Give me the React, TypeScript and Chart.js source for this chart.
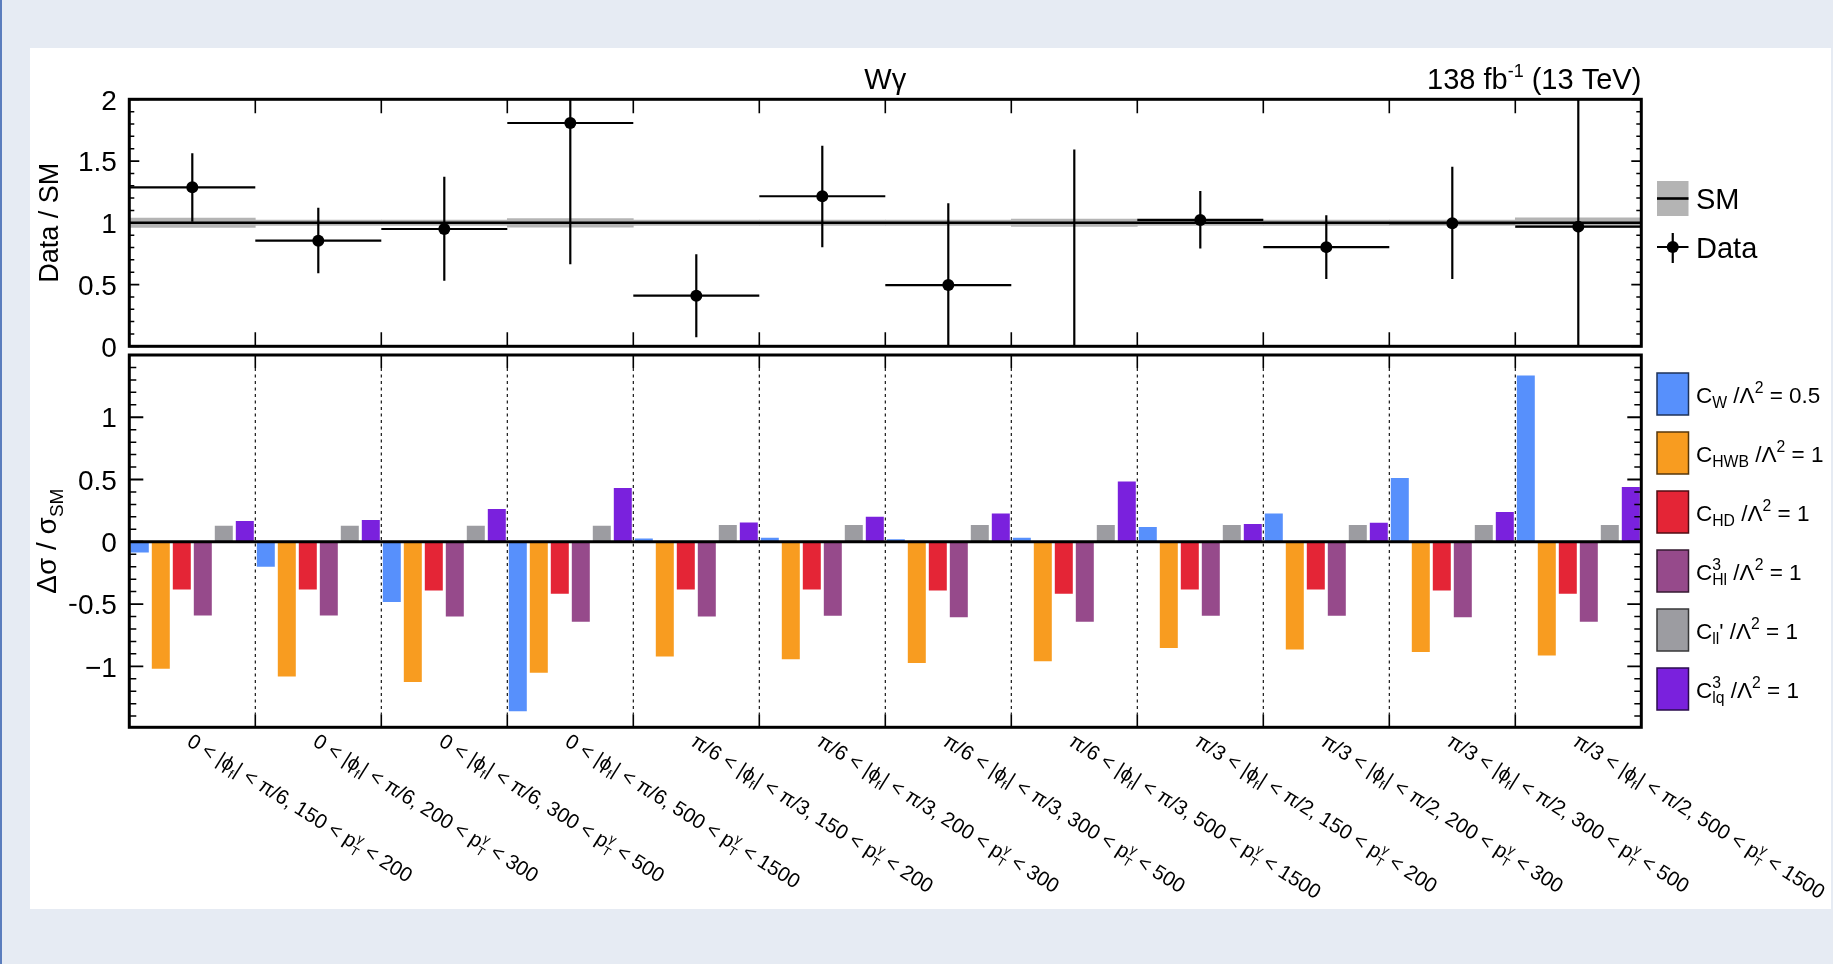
import React, { useEffect, useRef } from 'react';
import Chart from 'chart.js/auto';

// ---------------- data ----------------
const phiLow = ['0', '0', '0', '0', 'π/6', 'π/6', 'π/6', 'π/6', 'π/3', 'π/3', 'π/3', 'π/3'];
const phiHigh = ['π/6', 'π/6', 'π/6', 'π/6', 'π/3', 'π/3', 'π/3', 'π/3', 'π/2', 'π/2', 'π/2', 'π/2'];
const ptLow = ['150', '200', '300', '500', '150', '200', '300', '500', '150', '200', '300', '500'];
const ptHigh = ['200', '300', '500', '1500', '200', '300', '500', '1500', '200', '300', '500', '1500'];

const dataRatio = [1.287, 0.855, 0.95, 1.808, 0.41, 1.215, 0.496, -0.15, 1.023, 0.803, 0.997, 0.969];
const dataHigh = [1.563, 1.122, 1.373, 2.6, 0.746, 1.624, 1.158, 1.594, 1.258, 1.061, 1.454, 2.6];
const dataLow = [1.009, 0.591, 0.531, 0.664, 0.073, 0.803, -0.1, -0.3, 0.792, 0.544, 0.544, -0.3];
const smUnc = [0.038, 0.022, 0.022, 0.035, 0.022, 0.022, 0.022, 0.03, 0.022, 0.022, 0.022, 0.04];

const cW = [-0.086, -0.201, -0.483, -1.362, 0.027, 0.032, 0.021, 0.032, 0.118, 0.228, 0.512, 1.335];
const cHWB = [-1.019, -1.083, -1.126, -1.051, -0.922, -0.944, -0.973, -0.96, -0.853, -0.866, -0.885, -0.914];
const cHD = [-0.383, -0.383, -0.391, -0.418, -0.383, -0.383, -0.391, -0.418, -0.383, -0.383, -0.391, -0.418];
const cHl3 = [-0.593, -0.593, -0.601, -0.643, -0.601, -0.595, -0.606, -0.643, -0.595, -0.595, -0.606, -0.643];
const cll1 = [0.129, 0.129, 0.129, 0.129, 0.134, 0.134, 0.134, 0.134, 0.134, 0.134, 0.134, 0.134];
const clq3 = [0.166, 0.174, 0.263, 0.432, 0.155, 0.201, 0.228, 0.485, 0.142, 0.153, 0.239, 0.44];

const upperTicks = [0, 0.5, 1, 1.5, 2];
const lowerTicks = [-1, -0.5, 0, 0.5, 1];

const seriesColors = ['#5790fc', '#f89c20', '#e42536', '#964a8b', '#9c9ca1', '#7a21dd'];

type Seg = { t: string; sub?: string; sup?: string };

const legendLabels: Seg[][] = [
  [{ t: 'C', sub: 'W' }, { t: ' /Λ', sup: '2' }, { t: ' = 0.5' }],
  [{ t: 'C', sub: 'HWB' }, { t: ' /Λ', sup: '2' }, { t: ' = 1' }],
  [{ t: 'C', sub: 'HD' }, { t: ' /Λ', sup: '2' }, { t: ' = 1' }],
  [{ t: 'C', sub: 'Hl', sup: '3' }, { t: ' /Λ', sup: '2' }, { t: ' = 1' }],
  [{ t: 'C', sub: 'll' }, { t: "' /Λ", sup: '2' }, { t: ' = 1' }],
  [{ t: 'C', sub: 'lq', sup: '3' }, { t: ' /Λ', sup: '2' }, { t: ' = 1' }],
];

const FAMILY = "'Liberation Sans', 'DejaVu Sans', Arial, sans-serif";

// ---------------- helpers ----------------
function font(size: number) {
  return `${size}px ${FAMILY}`;
}

function richWidth(ctx: CanvasRenderingContext2D, segs: Seg[], size: number, small = 0.68) {
  let w = 0;
  for (const s of segs) {
    ctx.font = font(size);
    w += ctx.measureText(s.t).width;
    ctx.font = font(size * small);
    const a = s.sub ? ctx.measureText(s.sub).width : 0;
    const b = s.sup ? ctx.measureText(s.sup).width : 0;
    w += Math.max(a, b);
  }
  return w;
}

function drawRich(
  ctx: CanvasRenderingContext2D,
  segs: Seg[],
  x: number,
  y: number,
  size: number,
  align: 'left' | 'center' | 'right' = 'left',
  small = 0.68
) {
  const total = richWidth(ctx, segs, size, small);
  let cx = align === 'left' ? x : align === 'center' ? x - total / 2 : x - total;
  ctx.textAlign = 'left';
  ctx.textBaseline = 'alphabetic';
  for (const s of segs) {
    ctx.font = font(size);
    ctx.fillText(s.t, cx, y);
    cx += ctx.measureText(s.t).width;
    ctx.font = font(size * small);
    let a = 0;
    let b = 0;
    if (s.sub) {
      ctx.fillText(s.sub, cx, y + size * 0.26);
      a = ctx.measureText(s.sub).width;
    }
    if (s.sup) {
      ctx.fillText(s.sup, cx, y - size * 0.42);
      b = ctx.measureText(s.sup).width;
    }
    cx += Math.max(a, b);
  }
}

function darken(hex: string, f: number) {
  const n = parseInt(hex.slice(1), 16);
  const r = Math.round(((n >> 16) & 255) * f);
  const g = Math.round(((n >> 8) & 255) * f);
  const b = Math.round((n & 255) * f);
  return `rgb(${r},${g},${b})`;
}

function binEdge(xs: any, i: number) {
  // boundary between bin i-1 and bin i
  const p0 = xs.getPixelForValue(0);
  const p1 = xs.getPixelForValue(1);
  const w = p1 - p0;
  return p0 - w / 2 + i * w;
}

function drawFrameAndTicks(
  ctx: CanvasRenderingContext2D,
  chart: any,
  majors: number[],
  majLen: number,
  minLen: number,
  xTickLen: number,
  dashed: boolean
) {
  const ca = chart.chartArea;
  const ys = chart.scales.y;
  const xs = chart.scales.x;
  ctx.save();
  ctx.strokeStyle = '#000';
  for (let i = 1; i < 12; i++) {
    const px = binEdge(xs, i);
    ctx.lineWidth = 1.6;
    ctx.setLineDash([]);
    ctx.beginPath();
    ctx.moveTo(px, ca.top);
    ctx.lineTo(px, ca.top + xTickLen);
    ctx.moveTo(px, ca.bottom);
    ctx.lineTo(px, ca.bottom - xTickLen);
    ctx.stroke();
    if (dashed) {
      ctx.lineWidth = 1.1;
      ctx.setLineDash([3, 3.5]);
      ctx.beginPath();
      ctx.moveTo(px, ca.top + xTickLen);
      ctx.lineTo(px, ca.bottom - xTickLen);
      ctx.stroke();
      ctx.setLineDash([]);
    }
  }
  const min = ys.min;
  const max = ys.max;
  for (let k = Math.ceil(min * 10 - 1e-6); k <= Math.floor(max * 10 + 1e-6); k++) {
    const v = k / 10;
    const isMajor = majors.some((m) => Math.abs(m - v) < 1e-6);
    const len = isMajor ? majLen : minLen;
    const py = ys.getPixelForValue(v);
    ctx.lineWidth = isMajor ? 1.8 : 1.5;
    ctx.beginPath();
    ctx.moveTo(ca.left, py);
    ctx.lineTo(ca.left + len, py);
    ctx.moveTo(ca.right, py);
    ctx.lineTo(ca.right - len, py);
    ctx.stroke();
  }
  ctx.lineWidth = 3;
  ctx.strokeRect(ca.left, ca.top, ca.right - ca.left, ca.bottom - ca.top);
  ctx.restore();
}

const PLOT_LEFT = 129.3;
const PLOT_RIGHT = 1641.3;
const AXIS_W = 60;
const PAGE_W = 1833;
const PAGE_H = 964;

// ---------------- plugins ----------------
const upperPlugin = {
  id: 'upperDeco',
  afterDatasetDraw(chart: any, args: any) {
    if (args.index !== 0) return;
    const ctx: CanvasRenderingContext2D = chart.ctx;
    const ca = chart.chartArea;
    const xs = chart.scales.x;
    const ys = chart.scales.y;
    ctx.save();
    ctx.beginPath();
    ctx.rect(ca.left, ca.top, ca.right - ca.left, ca.bottom - ca.top);
    ctx.clip();
    ctx.strokeStyle = '#000';
    ctx.lineWidth = 2.6;
    ctx.beginPath();
    ctx.moveTo(binEdge(xs, 0), ys.getPixelForValue(1));
    ctx.lineTo(binEdge(xs, 12), ys.getPixelForValue(1));
    ctx.stroke();
    ctx.lineWidth = 2.2;
    for (let i = 0; i < dataRatio.length; i++) {
      const cx = xs.getPixelForValue(i);
      const py = ys.getPixelForValue(dataRatio[i]);
      ctx.beginPath();
      ctx.moveTo(binEdge(xs, i), py);
      ctx.lineTo(binEdge(xs, i + 1), py);
      ctx.moveTo(cx, ys.getPixelForValue(dataHigh[i]));
      ctx.lineTo(cx, ys.getPixelForValue(dataLow[i]));
      ctx.stroke();
    }
    ctx.restore();
  },
  afterDraw(chart: any) {
    const ctx: CanvasRenderingContext2D = chart.ctx;
    const ca = chart.chartArea;
    drawFrameAndTicks(ctx, chart, upperTicks, 10, 5, 14, false);
    ctx.save();
    ctx.fillStyle = '#000';
    drawRich(ctx, [{ t: 'Wγ' }], (ca.left + ca.right) / 2, 88.5, 29, 'center');
    drawRich(ctx, [{ t: '138 fb', sup: '-1' }, { t: ' (13 TeV)' }], ca.right, 89, 29, 'right', 0.62);
    ctx.save();
    ctx.translate(58, (ca.top + ca.bottom) / 2);
    ctx.rotate(-Math.PI / 2);
    drawRich(ctx, [{ t: 'Data / SM' }], 0, 0, 27, 'center');
    ctx.restore();
    const lx = 1657;
    const lw = 31.5;
    ctx.fillStyle = '#b4b4b4';
    ctx.fillRect(lx, 181, lw, 35);
    ctx.strokeStyle = '#000';
    ctx.lineWidth = 2.6;
    ctx.beginPath();
    ctx.moveTo(lx, 198.5);
    ctx.lineTo(lx + lw, 198.5);
    ctx.stroke();
    ctx.lineWidth = 2.2;
    ctx.beginPath();
    ctx.moveTo(lx, 247);
    ctx.lineTo(lx + lw, 247);
    ctx.moveTo(lx + lw / 2, 233);
    ctx.lineTo(lx + lw / 2, 263);
    ctx.stroke();
    ctx.fillStyle = '#000';
    ctx.beginPath();
    ctx.arc(lx + lw / 2, 247, 6, 0, Math.PI * 2);
    ctx.fill();
    drawRich(ctx, [{ t: 'SM' }], 1696, 209, 29);
    drawRich(ctx, [{ t: 'Data' }], 1696, 258, 29);
    ctx.restore();
  },
};

const lowerPlugin = {
  id: 'lowerDeco',
  afterDatasetsDraw(chart: any) {
    const ctx: CanvasRenderingContext2D = chart.ctx;
    const ys = chart.scales.y;
    const ca = chart.chartArea;
    ctx.save();
    ctx.strokeStyle = '#000';
    ctx.lineWidth = 3;
    ctx.beginPath();
    ctx.moveTo(ca.left, ys.getPixelForValue(0));
    ctx.lineTo(ca.right, ys.getPixelForValue(0));
    ctx.stroke();
    ctx.restore();
  },
  afterDraw(chart: any) {
    const ctx: CanvasRenderingContext2D = chart.ctx;
    const ca = chart.chartArea;
    const xs = chart.scales.x;
    drawFrameAndTicks(ctx, chart, lowerTicks, 14, 7, 13, true);
    ctx.save();
    ctx.fillStyle = '#000';
    ctx.save();
    ctx.translate(56, (ca.top + ca.bottom) / 2);
    ctx.rotate(-Math.PI / 2);
    drawRich(ctx, [{ t: 'Δσ / σ', sub: 'SM' }], 0, 0, 28, 'center');
    ctx.restore();
    const ang = (32 * Math.PI) / 180;
    for (let i = 0; i < 12; i++) {
      const cx = xs.getPixelForValue(i);
      ctx.save();
      ctx.translate(cx + 2, ca.bottom + 4);
      ctx.rotate(ang);
      drawRich(
        ctx,
        [
          { t: `${phiLow[i]} < |ϕ`, sub: 'f' },
          { t: `| < ${phiHigh[i]}, ${ptLow[i]} < p`, sub: 'T', sup: 'γ' },
          { t: ` < ${ptHigh[i]}` },
        ],
        0,
        16,
        20.5,
        'left',
        0.62
      );
      ctx.restore();
    }
    const lx = 1657;
    const lw = 31.5;
    const tops = [373, 432, 491, 550, 609, 668];
    for (let k = 0; k < 6; k++) {
      ctx.fillStyle = seriesColors[k];
      ctx.fillRect(lx, tops[k], lw, 42);
      ctx.strokeStyle = darken(seriesColors[k], 0.35);
      ctx.lineWidth = 1.5;
      ctx.strokeRect(lx, tops[k], lw, 42);
      ctx.fillStyle = '#000';
      drawRich(ctx, legendLabels[k], 1696, tops[k] + 21 + 8.5, 22.5, 'left', 0.7);
    }
    ctx.restore();
  },
};

// ---------------- component ----------------
export default function App() {
  const upperRef = useRef<HTMLCanvasElement | null>(null);
  const lowerRef = useRef<HTMLCanvasElement | null>(null);

  useEffect(() => {
    const binLabels = phiLow.map((p, i) => `${p} < |ϕf| < ${phiHigh[i]}, ${ptLow[i]} < pT < ${ptHigh[i]}`);
    const yTickFont = { family: FAMILY, size: 28 };
    const fmt = (v: any) => {
      const n = Number(v);
      return n < 0 ? '−' + String(Math.abs(n)) : String(n);
    };
    const yGrid = { display: false, drawTicks: false, tickLength: 0 };

    const upper = new Chart(upperRef.current as HTMLCanvasElement, {
      type: 'bar',
      data: {
        labels: binLabels,
        datasets: [
          {
            type: 'bar',
            label: 'SM',
            data: smUnc.map((u) => [1 - u, 1 + u]) as any,
            backgroundColor: '#b4b4b4',
            borderWidth: 0,
            barPercentage: 1,
            categoryPercentage: 1,
            order: 2,
          },
          {
            type: 'line',
            label: 'Data',
            data: dataRatio,
            showLine: false,
            pointRadius: 6,
            pointBackgroundColor: '#000',
            pointBorderWidth: 0,
            borderColor: '#000',
            clip: 0 as any,
            order: 1,
          },
        ],
      } as any,
      options: {
        responsive: false,
        animation: false,
        devicePixelRatio: 1,
        events: [],
        layout: {
          padding: {
            left: PLOT_LEFT - AXIS_W,
            right: PAGE_W - PLOT_RIGHT,
            top: 99.3,
            bottom: PAGE_H - 346.3,
          },
        },
        plugins: { legend: { display: false }, tooltip: { enabled: false }, title: { display: false } },
        scales: {
          x: { type: 'category', display: false, offset: true },
          y: {
            min: 0,
            max: 2,
            grid: yGrid,
            border: { display: false },
            afterBuildTicks: (s: any) => {
              s.ticks = upperTicks.map((v) => ({ value: v }));
            },
            afterFit: (s: any) => {
              s.width = AXIS_W;
            },
            ticks: { font: yTickFont, color: '#000', padding: 12.5, labelOffset: 2.5, autoSkip: false, callback: fmt },
          },
        },
      } as any,
      plugins: [upperPlugin],
    });

    const lower = new Chart(lowerRef.current as HTMLCanvasElement, {
      type: 'bar',
      data: {
        labels: binLabels,
        datasets: [cW, cHWB, cHD, cHl3, cll1, clq3].map((d, k) => ({
          label: ['CW', 'CHWB', 'CHD', 'CHl3', "Cll'", 'Clq3'][k],
          data: d,
          backgroundColor: seriesColors[k],
          borderWidth: 0,
          barPercentage: 0.857,
          categoryPercentage: 1,
        })),
      },
      options: {
        responsive: false,
        animation: false,
        devicePixelRatio: 1,
        events: [],
        layout: {
          padding: {
            left: PLOT_LEFT - AXIS_W,
            right: PAGE_W - PLOT_RIGHT,
            top: 355,
            bottom: PAGE_H - 727.3,
          },
        },
        plugins: { legend: { display: false }, tooltip: { enabled: false }, title: { display: false } },
        scales: {
          x: { type: 'category', display: false, offset: true },
          y: {
            min: -1.49,
            max: 1.5,
            grid: yGrid,
            border: { display: false },
            afterBuildTicks: (s: any) => {
              s.ticks = lowerTicks.map((v) => ({ value: v }));
            },
            afterFit: (s: any) => {
              s.width = AXIS_W;
            },
            ticks: { font: yTickFont, color: '#000', padding: 12.5, labelOffset: 2.5, autoSkip: false, callback: fmt },
          },
        },
      } as any,
      plugins: [lowerPlugin],
    });

    return () => {
      upper.destroy();
      lower.destroy();
    };
  }, []);

  return (
    <div
      style={{
        position: 'fixed',
        left: 0,
        top: 0,
        width: PAGE_W,
        height: PAGE_H,
        background: '#e6ebf3',
        overflow: 'hidden',
      }}
    >
      <div style={{ position: 'absolute', left: 0, top: 0, width: 2, height: PAGE_H, background: '#5b7dbd' }} />
      <div style={{ position: 'absolute', left: 30, top: 48, width: 1801, height: 861, background: '#ffffff' }} />
      <canvas
        ref={upperRef}
        width={PAGE_W}
        height={PAGE_H}
        style={{ position: 'absolute', left: 0, top: 0, width: PAGE_W, height: PAGE_H }}
      />
      <canvas
        ref={lowerRef}
        width={PAGE_W}
        height={PAGE_H}
        style={{ position: 'absolute', left: 0, top: 0, width: PAGE_W, height: PAGE_H }}
      />
    </div>
  );
}
